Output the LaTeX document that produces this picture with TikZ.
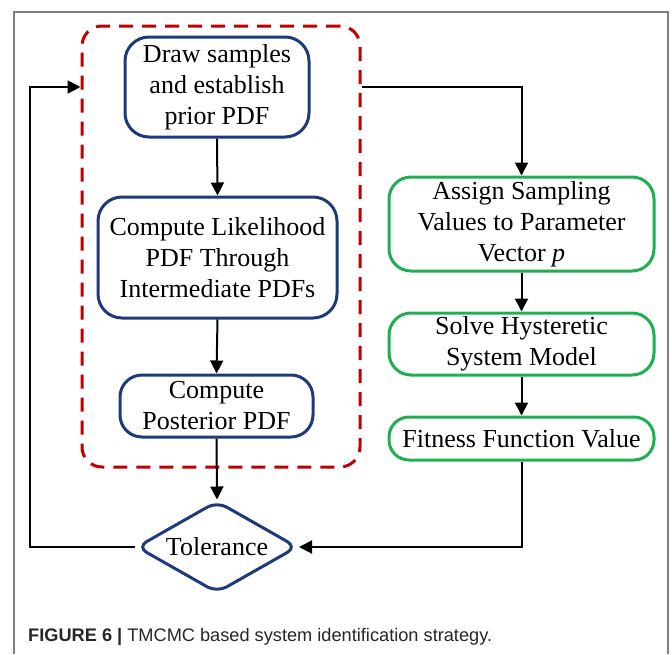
\documentclass[tikz,border=0pt]{standalone}
\usepackage{fontspec}
\setmainfont{Liberation Serif}
\newfontfamily\capfont{Liberation Sans}
\usetikzlibrary{arrows.meta,shapes.geometric}
\definecolor{navy}{HTML}{1F3A7A}
\definecolor{grn}{HTML}{1FAF50}
\definecolor{dred}{HTML}{C00000}
\definecolor{framegray}{HTML}{808080}
\tikzset{
  bluebox/.style={draw=navy, line width=3pt, rounded corners=24pt, align=center, inner sep=0pt,
    font=\fontsize{26}{31}\selectfont},
  greenbox/.style={draw=grn, line width=3pt, rounded corners=22pt, align=center, inner sep=0pt,
    font=\fontsize{26}{31}\selectfont},
  groupbox/.style={draw=dred, line width=3pt, rounded corners=20pt, dash pattern=on 14pt off 9pt, inner sep=0pt},
  decision/.style={draw=navy, line width=3pt, diamond, aspect=1.75, rounded corners=11pt, inner sep=0pt,
    font=\fontsize{26}{31}\selectfont},
  arr/.style={draw=black, line width=2pt, -{Triangle[length=13pt,width=13pt]}},
}
\begin{document}
\begin{tikzpicture}[x=1pt,y=-1pt]
\useasboundingbox (0,0) rectangle (672,654);
% frame
\draw[framegray, line width=1.5pt] (14,654) -- (14,12) -- (668,12) -- (668,654);
% group
\node[groupbox, minimum width=278pt, minimum height=441pt] (grp) at (221,246.5) {};
% left column
\node[bluebox, minimum width=184pt, minimum height=100pt] (draw) at (217,87) {Draw samples\\and establish\\prior PDF};
\node[bluebox, minimum width=239pt, minimum height=121pt] (like) at (217.5,257.5) {Compute Likelihood\\PDF Through\\Intermediate PDFs};
\node[bluebox, minimum width=193pt, minimum height=62pt, rounded corners=22pt] (post) at (216.5,406) {Compute\\Posterior PDF};
\node[decision, minimum width=161pt, minimum height=92pt] (tol) at (217,547) {Tolerance};
% right column
\node[greenbox, minimum width=265pt, minimum height=94pt] (assign) at (521.5,224) {Assign Sampling\\Values to Parameter\\Vector \textit{p}};
\node[greenbox, minimum width=265pt, minimum height=62pt] (solve) at (521.5,344) {Solve Hysteretic\\System Model};
\node[greenbox, minimum width=265pt, minimum height=43pt, rounded corners=20pt] (fit) at (521.5,438.5) {Fitness Function Value};
\coordinate (lp) at (30,547);
% connectors
\draw[arr] (draw.south) -- (like.north);
\draw[arr] (like.south) -- (post.north);
\draw[arr] (post.south) -- (tol.north);
\draw[arr] (grp.east |- draw.center) -| (assign.north);
\draw[arr] (assign.south) -- (solve.north);
\draw[arr] (solve.south) -- (fit.north);
\draw[arr] (fit.south) |- (tol.east);
\draw[arr] (tol.west) -- (lp) |- (grp.west |- draw.center);
% caption
\node[anchor=base west, inner sep=0pt, text=black!85, font=\capfont\fontsize{18.2}{22}\selectfont] (cap) at (28,641)
  {\textbf{FIGURE 6 |} TMCMC based system identification strategy.};
\end{tikzpicture}
\end{document}
